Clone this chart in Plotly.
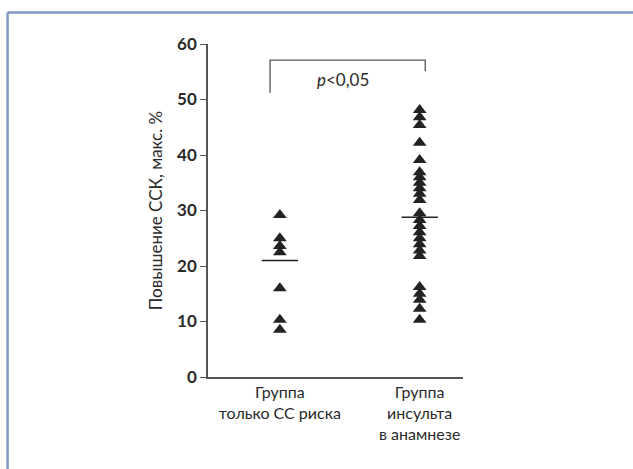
import plotly.graph_objects as go

categories = ["Группа<br>только СС риска", "Группа<br>инсульта<br>в анамнезе"]
group1_values = [29.2, 25.0, 23.6, 22.5, 16.0, 10.3, 8.5]
group2_values = [48.1, 46.8, 45.4, 42.2, 39.1, 36.9, 36.0, 35.0, 34.0, 33.0, 31.9,
                  29.5, 28.3, 27.2, 26.1, 25.0, 23.9, 22.8, 21.8,
                  16.2, 15.0, 13.9, 12.3, 10.3]
group_means = [21.0, 28.8]
y_ticks = [0, 10, 20, 30, 40, 50, 60]
p_label = "<i>p</i><0,05"
y_title = "Повышение ССК, макс. %"

xpos = [1, 2]
font_fam = "Lato, Liberation Sans, Arial, sans-serif"

fig = go.Figure()
for xp, vals in zip(xpos, [group1_values, group2_values]):
    fig.add_trace(go.Scatter(
        x=[xp] * len(vals), y=vals, mode="markers",
        marker=dict(symbol="triangle-up", size=12, color="#222222", line=dict(width=0)),
        showlegend=False, hoverinfo="y"))

# mean lines
for xp, m in zip(xpos, group_means):
    fig.add_shape(type="line", x0=xp - 0.13, x1=xp + 0.13, y0=m, y1=m,
                  xref="x", yref="y", line=dict(color="#222222", width=1.5))

# significance bracket
fig.add_trace(go.Scatter(
    x=[0.93, 0.93, 2.04, 2.04], y=[51.2, 57.1, 57.1, 55.1], mode="lines",
    line=dict(color="#555555", width=1.3), showlegend=False, hoverinfo="skip"))
fig.add_annotation(x=1.45, y=53.6, xref="x", yref="y", text=p_label, showarrow=False,
                   font=dict(family=font_fam, size=17, color="#2a2a2a"))

# outer frame (top and left edges)
fig.add_shape(type="line", xref="paper", yref="paper", x0=-0.786, x1=1.7, y0=1.0946, y1=1.0946,
              line=dict(color="#7f98c4", width=2.5))
fig.add_shape(type="line", xref="paper", yref="paper", x0=-0.786, x1=-0.786, y0=1.0946, y1=-0.3,
              line=dict(color="#7f98c4", width=2.5))

fig.update_layout(
    width=633, height=469,
    margin=dict(l=208, r=170, t=44, b=92),
    paper_bgcolor="white", plot_bgcolor="white",
    xaxis=dict(range=[0.486, 2.31], tickvals=xpos, ticktext=categories,
               showline=True, linecolor="#555555", linewidth=1.5, ticks="",
               showgrid=False, zeroline=False,
               tickfont=dict(family=font_fam, size=16, color="#2a2a2a")),
    yaxis=dict(range=[0, 60], tickvals=y_ticks, showline=True, linecolor="#555555",
               linewidth=1.5, ticks="outside", ticklen=6, tickcolor="#555555",
               showgrid=False, zeroline=False,
               tickfont=dict(family=font_fam, size=17, color="#2a2a2a", weight="bold"),
               title=dict(text=y_title, standoff=10,
                          font=dict(family=font_fam, size=17, color="#2a2a2a"))),
)

fig.write_html("out.html", config={"displayModeBar": False},
               post_script="document.body.style.margin='0';")
